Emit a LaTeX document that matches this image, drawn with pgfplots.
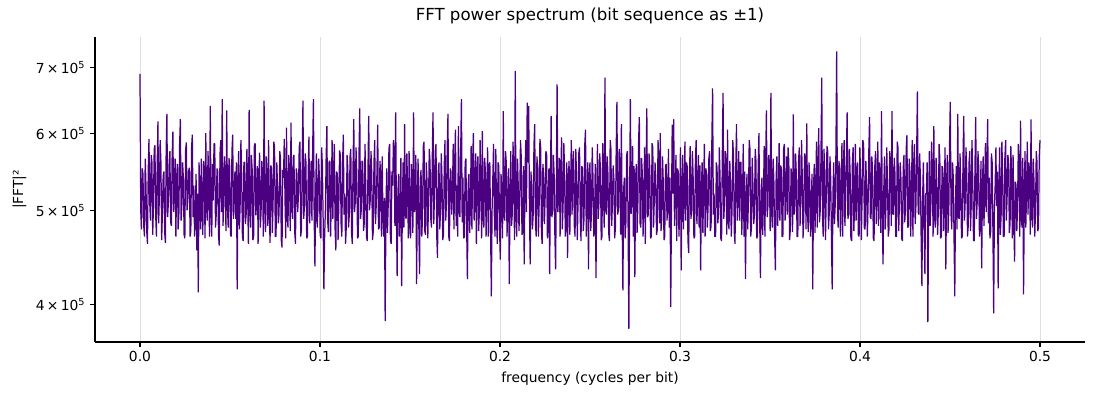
\documentclass[border=0pt]{standalone}
\usepackage{fontspec}
\setmainfont{DejaVu Sans}
\usepackage{pgfplots}
\usepackage{pgfplotstable}
\pgfplotsset{compat=1.18}
\definecolor{indigo}{HTML}{4B0082}
\definecolor{gridgray}{HTML}{DEDEDE}

% |FFT|^2 in thousands, 1205 bins from 0 to 0.5 cycles per bit
\pgfplotstableread[row sep=\\]{
y\\
690\\500\\478\\552\\545\\482\\470\\565\\530\\476\\462\\548\\592\\510\\488\\570\\560\\472\\505\\578\\583\\494\\470\\556\\617\\485\\520\\590\\560\\466\\498\\542\\548\\475\\463\\575\\628\\492\\510\\560\\
575\\486\\482\\568\\602\\498\\530\\565\\470\\540\\558\\478\\495\\584\\620\\488\\505\\560\\540\\472\\468\\576\\587\\500\\512\\548\\553\\470\\476\\580\\598\\492\\530\\470\\490\\545\\455\\520\\412\\560\\
520\\478\\565\\500\\472\\562\\548\\468\\600\\505\\488\\575\\530\\470\\640\\495\\470\\558\\512\\585\\585\\480\\495\\552\\548\\472\\460\\570\\590\\498\\650\\482\\505\\568\\540\\476\\633\\505\\480\\566\\
555\\472\\470\\575\\598\\490\\520\\548\\490\\560\\415\\532\\575\\478\\508\\590\\545\\470\\465\\560\\560\\484\\495\\578\\520\\462\\634\\500\\480\\570\\552\\466\\470\\582\\586\\494\\510\\555\\462\\540\\
573\\480\\498\\562\\540\\470\\648\\510\\475\\568\\530\\482\\590\\500\\463\\556\\552\\474\\505\\588\\580\\470\\470\\560\\528\\485\\495\\575\\565\\466\\458\\550\\540\\592\\512\\468\\608\\492\\480\\570\\
548\\476\\615\\505\\490\\566\\570\\475\\462\\552\\545\\498\\520\\580\\588\\470\\478\\560\\648\\490\\505\\572\\560\\468\\470\\545\\595\\485\\530\\562\\488\\578\\650\\492\\438\\520\\572\\480\\500\\565\\
540\\472\\468\\580\\555\\490\\415\\470\\500\\565\\610\\488\\475\\560\\562\\470\\520\\590\\490\\550\\585\\478\\455\\548\\545\\466\\508\\576\\570\\485\\470\\558\\598\\495\\520\\462\\482\\570\\553\\480\\
495\\568\\578\\474\\462\\555\\620\\498\\510\\580\\545\\468\\470\\572\\636\\490\\500\\562\\560\\476\\485\\585\\530\\470\\465\\552\\625\\500\\512\\575\\548\\466\\475\\560\\590\\484\\505\\548\\612\\478\\
480\\562\\540\\470\\568\\490\\470\\515\\385\\498\\552\\474\\505\\578\\585\\466\\462\\548\\530\\590\\578\\482\\630\\500\\428\\520\\545\\470\\500\\566\\418\\505\\560\\480\\613\\495\\490\\572\\525\\468\\
575\\485\\468\\558\\540\\474\\630\\498\\505\\570\\420\\510\\565\\482\\430\\540\\550\\470\\495\\582\\588\\476\\472\\560\\535\\468\\510\\578\\560\\490\\480\\566\\630\\484\\520\\575\\585\\470\\447\\548\\
560\\478\\498\\572\\540\\466\\472\\556\\590\\488\\510\\580\\628\\470\\465\\552\\548\\495\\520\\585\\478\\562\\605\\482\\530\\470\\610\\498\\492\\575\\650\\486\\540\\468\\470\\560\\565\\480\\425\\530\\
545\\474\\505\\582\\478\\560\\600\\488\\520\\572\\462\\548\\568\\476\\498\\590\\535\\468\\603\\492\\480\\566\\550\\470\\515\\580\\470\\556\\560\\478\\408\\500\\540\\585\\495\\470\\578\\488\\462\\560\\
555\\480\\445\\545\\520\\468\\632\\495\\488\\575\\560\\470\\505\\552\\420\\510\\575\\482\\495\\588\\548\\466\\695\\490\\470\\565\\530\\476\\510\\590\\568\\472\\475\\555\\440\\540\\590\\498\\645\\560\\
640\\500\\440\\548\\530\\478\\495\\582\\613\\486\\470\\568\\552\\470\\508\\592\\580\\475\\462\\558\\540\\484\\515\\575\\570\\468\\488\\552\\430\\530\\625\\492\\500\\570\\545\\472\\435\\538\\673\\498\\
520\\566\\470\\548\\594\\478\\505\\586\\548\\470\\480\\560\\447\\535\\562\\472\\525\\590\\495\\556\\575\\482\\470\\578\\540\\466\\508\\572\\580\\488\\465\\555\\552\\476\\490\\584\\605\\470\\512\\560\\
435\\545\\560\\476\\498\\580\\540\\470\\475\\558\\426\\520\\585\\490\\510\\572\\550\\466\\470\\586\\525\\480\\684\\500\\495\\568\\545\\474\\465\\590\\578\\482\\508\\556\\538\\468\\480\\575\\646\\495\\
500\\578\\560\\472\\613\\490\\414\\525\\540\\468\\485\\570\\575\\480\\378\\512\\650\\496\\520\\582\\470\\555\\427\\540\\558\\474\\505\\588\\623\\485\\480\\566\\545\\470\\510\\580\\462\\548\\636\\492\\
495\\572\\552\\468\\470\\586\\580\\480\\512\\560\\540\\472\\478\\590\\565\\485\\600\\476\\490\\568\\535\\466\\470\\555\\558\\488\\505\\578\\480\\540\\398\\505\\612\\520\\620\\482\\520\\570\\465\\552\\
548\\470\\505\\580\\434\\530\\570\\478\\520\\588\\488\\560\\555\\466\\452\\545\\582\\490\\500\\575\\540\\468\\470\\562\\590\\484\\515\\570\\480\\556\\434\\525\\560\\474\\525\\585\\470\\552\\545\\480\\
505\\565\\575\\476\\482\\588\\667\\495\\520\\470\\470\\560\\552\\485\\498\\580\\540\\468\\465\\570\\660\\490\\510\\575\\555\\472\\605\\486\\478\\562\\530\\470\\500\\590\\568\\475\\462\\552\\613\\488\\
520\\575\\488\\560\\560\\472\\508\\585\\470\\548\\425\\515\\545\\478\\515\\590\\578\\470\\480\\566\\530\\484\\495\\578\\562\\468\\470\\555\\600\\490\\426\\520\\540\\472\\510\\582\\470\\560\\633\\492\\
505\\570\\550\\476\\660\\498\\480\\565\\535\\470\\434\\540\\568\\482\\510\\586\\488\\556\\552\\470\\470\\578\\585\\488\\520\\568\\495\\580\\560\\466\\478\\552\\540\\475\\627\\495\\500\\572\\545\\470\\
470\\562\\580\\482\\510\\590\\540\\468\\490\\572\\565\\478\\614\\496\\475\\560\\535\\470\\505\\545\\415\\525\\558\\474\\520\\588\\480\\556\\607\\486\\500\\570\\684\\494\\470\\578\\548\\466\\515\\582\\
575\\478\\495\\568\\540\\470\\415\\520\\560\\484\\505\\575\\728\\498\\480\\562\\552\\470\\520\\586\\470\\555\\590\\482\\512\\570\\630\\490\\495\\578\\545\\468\\465\\560\\580\\476\\510\\585\\488\\552\\
560\\472\\470\\580\\540\\466\\515\\590\\585\\480\\478\\562\\530\\470\\505\\576\\623\\492\\490\\568\\550\\468\\465\\555\\575\\484\\520\\588\\482\\560\\545\\474\\632\\498\\440\\525\\568\\478\\505\\580\\
530\\470\\478\\575\\560\\482\\632\\496\\495\\566\\545\\470\\470\\588\\580\\476\\512\\560\\538\\468\\465\\552\\570\\486\\500\\578\\597\\480\\482\\565\\548\\470\\520\\590\\470\\558\\585\\484\\505\\570\\
662\\498\\495\\572\\540\\470\\418\\515\\560\\480\\430\\520\\520\\560\\384\\500\\575\\482\\505\\588\\548\\470\\610\\492\\480\\566\\530\\472\\500\\585\\565\\468\\470\\555\\552\\476\\515\\580\\435\\530\\
570\\474\\500\\585\\646\\495\\478\\560\\540\\470\\408\\510\\555\\478\\628\\492\\490\\572\\530\\468\\470\\566\\625\\488\\512\\580\\548\\470\\482\\558\\575\\476\\505\\590\\540\\466\\465\\556\\623\\490\\
510\\575\\555\\470\\480\\562\\436\\530\\568\\482\\520\\586\\498\\560\\620\\485\\540\\468\\475\\572\\560\\478\\392\\505\\530\\580\\505\\548\\416\\520\\580\\472\\495\\588\\545\\470\\470\\566\\590\\488\\
515\\570\\560\\474\\485\\582\\540\\468\\570\\490\\443\\535\\530\\476\\505\\585\\550\\470\\618\\492\\480\\566\\410\\510\\575\\480\\520\\588\\495\\560\\548\\472\\620\\496\\480\\565\\535\\470\\500\\575\\
560\\476\\480\\568\\590\\
}\spec

\begin{document}
\begin{tikzpicture}
\begin{axis}[
  scale only axis, width=9.9in, height=3.05in,
  xmin=-0.025, xmax=0.525,
  ymode=log, ymin=366.5, ymax=753,
  axis x line*=bottom, axis y line*=left,
  axis line style={-, black, line width=0.8pt},
  xtick={0,0.1,0.2,0.3,0.4,0.5},
  xticklabels={0.0,0.1,0.2,0.3,0.4,0.5},
  ytick={400,500,600,700},
  yticklabels={4\,×\,10\textsuperscript{5},5\,×\,10\textsuperscript{5},6\,×\,10\textsuperscript{5},7\,×\,10\textsuperscript{5}},
  yminorticks=false, xminorticks=false,
  tick align=outside, major tick length=3.5pt,
  tick style={black, line width=0.8pt},
  xmajorgrids, grid style={gridgray, line width=0.7pt},
  tick label style={font=\fontsize{10}{12}\selectfont},
  xlabel={frequency (cycles per bit)},
  ylabel={|FFT|²},
  label style={font=\fontsize{10}{12}\selectfont},
  title={FFT power spectrum (bit sequence as ±1)},
  title style={font=\fontsize{12}{14}\selectfont},
]
\addplot[indigo, line width=0.9pt, no marks, line join=bevel] table[x expr=\coordindex/2408, y=y]{\spec};
\end{axis}
\pgfresetboundingbox
\path[use as bounding box] (-0.95in,-0.58in) rectangle (10.05in,3.42in);
\end{tikzpicture}
\end{document}
